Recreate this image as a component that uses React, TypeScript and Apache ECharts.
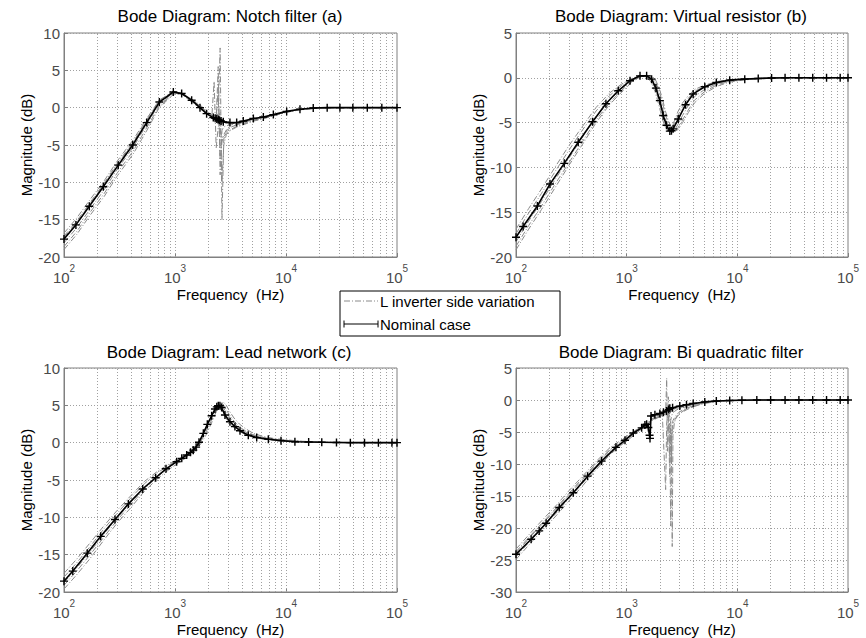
import React, { useEffect, useRef } from "react";
import * as echarts from "echarts";

const FONT = "Liberation Sans, Arial, Helvetica, sans-serif";

// ---------- Panel (a) Notch filter ----------
const NOM_A_F = [100, 128, 169, 226, 308, 416, 556, 723, 966, 1148, 1413, 1679, 1927, 2213, 2300, 2380, 2456, 2520, 2600, 2723, 3126, 3594, 4121, 5082, 6250, 7690, 10140, 13360, 17600, 23500, 30600, 40000, 54000, 73000, 100000];
const NOM_A_V = [-17.6, -15.7, -13.2, -10.6, -7.7, -5.0, -2.0, 0.75, 2.1, 1.9, 1.0, 0.0, -0.8, -1.33, -1.42, -1.52, -1.6, -1.68, -1.78, -1.9, -2.0, -2.0, -1.8, -1.46, -1.24, -0.93, -0.5, -0.22, -0.05, 0, 0, 0, 0, 0, 0];
const VAR_A_F = [100, 130, 170, 230, 300, 420, 560, 720, 970, 1150, 1400, 1700, 1950, 2150, 2250, 2350, 2450, 2550, 2650, 2750, 2900, 3200, 3600, 4100, 5100, 6200, 7700, 10000, 13000, 18000, 25000, 40000, 100000];
const VAR_A1 = [-16.8, -14.8, -12.4, -9.8, -7.2, -4.3, -1.4, 1.0, 2.2, 1.8, 0.8, -0.2, -0.9, -1.3, -1.4, -1.2, -0.8, 8.0, -15.0, -4.2, -3.1, -2.6, -2.3, -2.0, -1.6, -1.35, -1.0, -0.6, -0.3, -0.1, 0, 0, 0];
const VAR_A2 = [-17.2, -15.2, -12.8, -10.1, -7.5, -4.6, -1.6, 0.9, 2.2, 1.9, 0.9, -0.1, -0.9, -1.1, 3.5, -5.4, -2.6, -2.2, -2.1, -2.1, -2.1, -2.1, -2.1, -1.9, -1.5, -1.3, -1.0, -0.55, -0.27, -0.06, 0, 0, 0];
const VAR_A3 = [-18.1, -16.1, -13.7, -11.0, -8.3, -5.3, -2.2, 0.5, 2.0, 1.9, 1.1, 0.1, -0.7, -1.2, -1.3, -1.3, 2.5, -7.0, -4.6, -3.6, -3.0, -2.6, -2.3, -2.1, -1.7, -1.4, -1.05, -0.6, -0.3, -0.08, 0, 0, 0];
const VAR_A4 = [-18.6, -16.6, -14.1, -11.5, -8.8, -5.8, -2.6, 0.2, 1.9, 1.9, 1.2, 0.2, -0.6, -1.0, -1.2, -1.3, -1.4, -0.6, -10.0, -5.0, -3.6, -3.0, -2.6, -2.3, -1.8, -1.5, -1.1, -0.65, -0.32, -0.1, 0, 0, 0];
const VAR_A5 = [-19.0, -17.0, -14.5, -11.9, -9.2, -6.2, -3.0, 0.0, 1.8, 1.9, 1.2, 0.3, -0.5, -1.0, -1.3, -1.6, -2.2, -3.0, -4.0, -3.9, -3.4, -2.9, -2.5, -2.2, -1.75, -1.45, -1.1, -0.6, -0.3, -0.08, 0, 0, 0];
const VAR_A6 = [-17.4, -15.4, -13.0, -10.3, -7.7, -4.7, -1.8, 0.8, 2.1, 1.9, 0.95, -0.1, -0.85, -1.2, -1.4, -1.8, 5.5, -9.0, -3.0, -2.6, -2.4, -2.3, -2.2, -1.95, -1.55, -1.3, -1.0, -0.55, -0.27, -0.06, 0, 0, 0];

// ---------- Panel (b) Virtual resistor ----------
const NOM_B_F = [100, 116, 156, 203, 273, 365, 492, 649, 839, 1072, 1320, 1515, 1680, 1837, 1995, 2138, 2291, 2455, 2540, 2630, 2924, 3405, 3990, 5080, 6460, 8530, 11670, 15450, 20400, 27000, 36000, 48000, 64000, 85000, 100000];
const NOM_B_V = [-17.8, -16.6, -14.3, -11.85, -9.55, -7.2, -4.9, -2.9, -1.45, -0.33, 0.22, 0.22, -0.15, -1.15, -2.55, -4.2, -5.3, -5.95, -5.9, -5.7, -4.6, -3.0, -1.8, -1.0, -0.52, -0.26, -0.15, -0.07, -0.03, 0, 0, 0, 0, 0, 0];
const VAR_B_F = [100, 130, 170, 230, 300, 400, 530, 700, 900, 1100, 1300, 1500, 1650, 1800, 1950, 2100, 2250, 2400, 2550, 2700, 2900, 3200, 3600, 4100, 5000, 6500, 8500, 11500, 16000, 25000, 50000, 100000];
const VAR_B1 = [-16.9, -14.6, -12.4, -9.8, -7.6, -5.4, -3.3, -1.7, -0.7, -0.1, 0.25, 0.1, -0.4, -1.5, -3.0, -4.6, -5.6, -5.9, -5.5, -4.8, -3.8, -2.8, -2.0, -1.3, -0.85, -0.42, -0.2, -0.1, -0.04, 0, 0, 0];
const VAR_B2 = [-17.4, -15.1, -12.9, -10.3, -8.1, -5.8, -3.7, -2.0, -0.85, -0.2, 0.2, 0.2, -0.15, -1.1, -2.5, -4.1, -5.3, -5.9, -5.7, -5.1, -4.2, -3.2, -2.3, -1.5, -1.0, -0.48, -0.23, -0.12, -0.05, 0, 0, 0];
const VAR_B3 = [-18.3, -16.0, -13.8, -11.2, -9.0, -6.6, -4.3, -2.5, -1.2, -0.35, 0.15, 0.25, 0.1, -0.6, -1.8, -3.3, -4.7, -5.6, -6.1, -5.9, -5.2, -4.2, -3.1, -2.1, -1.35, -0.65, -0.32, -0.17, -0.07, -0.01, 0, 0];
const VAR_B4 = [-18.8, -16.5, -14.3, -11.7, -9.5, -7.1, -4.7, -2.8, -1.4, -0.45, 0.1, 0.25, 0.2, -0.3, -1.3, -2.7, -4.2, -5.2, -5.8, -6.0, -5.6, -4.7, -3.6, -2.5, -1.6, -0.8, -0.4, -0.2, -0.08, -0.01, 0, 0];
const VAR_B5 = [-19.2, -16.9, -14.7, -12.1, -9.8, -7.4, -5.0, -3.0, -1.6, -0.55, 0.05, 0.25, 0.25, -0.1, -1.0, -2.3, -3.8, -4.9, -5.6, -6.0, -5.8, -5.0, -3.9, -2.8, -1.8, -0.95, -0.48, -0.24, -0.1, -0.02, 0, 0];

// ---------- Panel (c) Lead network ----------
const NOM_C_F = [100, 120, 162, 214, 288, 380, 512, 670, 830, 1035, 1150, 1274, 1380, 1462, 1550, 1644, 1800, 1955, 2138, 2291, 2380, 2455, 2540, 2630, 2818, 3126, 3467, 3851, 4574, 5445, 6934, 9016, 12030, 16000, 21000, 28500, 38000, 51000, 68000, 90000, 100000];
const NOM_C_V = [-18.55, -17.2, -14.8, -12.55, -10.3, -8.2, -6.2, -4.7, -3.5, -2.55, -2.1, -1.65, -1.3, -1.0, -0.6, 0.05, 1.25, 2.45, 3.6, 4.5, 4.8, 4.95, 4.95, 4.7, 3.7, 2.8, 2.15, 1.6, 1.0, 0.7, 0.45, 0.27, 0.13, 0.09, 0.05, 0.03, 0, 0, 0, 0, 0];
const VAR_C_F = [100, 130, 170, 230, 300, 400, 530, 700, 900, 1100, 1300, 1500, 1700, 1900, 2100, 2300, 2500, 2700, 2900, 3100, 3400, 3800, 4300, 5000, 6000, 7500, 10000, 14000, 20000, 40000, 100000];
const VAR_C1 = [-17.5, -15.6, -13.5, -11.1, -9.1, -7.1, -5.2, -3.8, -2.8, -2.1, -1.5, -0.7, 0.5, 2.0, 3.4, 4.5, 4.8, 4.1, 3.2, 2.7, 2.0, 1.5, 1.1, 0.75, 0.5, 0.35, 0.22, 0.11, 0.05, 0, 0];
const VAR_C2 = [-18.0, -16.1, -14.0, -11.5, -9.5, -7.4, -5.5, -4.0, -2.95, -2.2, -1.6, -0.8, 0.4, 1.9, 3.3, 4.5, 5.0, 4.5, 3.6, 3.0, 2.3, 1.75, 1.3, 0.85, 0.6, 0.4, 0.26, 0.13, 0.05, 0, 0];
const VAR_C3 = [-19.1, -17.2, -15.1, -12.6, -10.4, -8.3, -6.2, -4.5, -3.3, -2.45, -1.8, -1.0, 0.1, 1.4, 2.8, 4.2, 5.1, 5.2, 4.4, 3.7, 2.9, 2.1, 1.6, 1.1, 0.75, 0.5, 0.32, 0.16, 0.07, 0.01, 0];
const VAR_C4 = [-19.6, -17.7, -15.6, -13.0, -10.8, -8.7, -6.5, -4.8, -3.5, -2.6, -1.9, -1.2, -0.2, 1.0, 2.4, 3.8, 5.0, 5.5, 5.0, 4.2, 3.3, 2.5, 1.9, 1.3, 0.9, 0.6, 0.38, 0.19, 0.08, 0.01, 0];
const VAR_C5 = [-18.75, -16.8, -14.7, -12.2, -10.1, -8.0, -6.0, -4.35, -3.2, -2.35, -1.75, -0.9, 0.3, 1.7, 3.1, 4.4, 5.1, 4.8, 4.0, 3.4, 2.6, 1.95, 1.45, 1.0, 0.68, 0.45, 0.3, 0.15, 0.06, 0, 0];

// ---------- Panel (d) Bi quadratic filter ----------
const NOM_D_F = [100, 137, 162, 187, 246, 329, 444, 594, 800, 966, 1148, 1366, 1462, 1515, 1570, 1610, 1625, 1660, 1800, 1995, 2150, 2291, 2400, 2455, 2600, 3020, 3470, 3990, 5080, 6460, 8530, 11000, 15000, 20000, 27000, 36000, 48000, 64000, 85000, 100000];
const NOM_D_V = [-24.1, -21.75, -20.45, -19.25, -16.8, -14.5, -11.9, -9.55, -7.4, -6.3, -5.15, -4.35, -3.9, -3.8, -4.3, -5.5, -6.0, -2.5, -2.3, -2.1, -1.9, -1.7, -1.5, -1.3, -1.2, -0.95, -0.75, -0.55, -0.3, -0.15, -0.07, -0.03, 0, 0, 0, 0, 0, 0, 0, 0];
const VAR_D_F = [100, 130, 170, 230, 300, 400, 530, 700, 900, 1100, 1300, 1500, 1600, 1700, 1900, 2100, 2250, 2300, 2340, 2380, 2450, 2500, 2540, 2580, 2620, 2700, 2850, 3100, 3500, 4000, 5000, 6500, 8500, 12000, 20000, 50000, 100000];
const VAR_D1 = [-23.3, -21.1, -18.9, -16.5, -14.2, -11.9, -9.6, -7.5, -6.2, -5.2, -4.3, -3.7, -3.3, -2.9, -2.5, -2.2, -2.0, 3.4, -8.0, -3.0, -2.0, -1.8, -1.6, -1.5, -1.4, -1.3, -1.1, -1.0, -0.8, -0.55, -0.3, -0.15, -0.07, -0.03, 0, 0, 0];
const VAR_D2 = [-23.7, -21.5, -19.3, -16.9, -14.6, -12.2, -9.9, -7.8, -6.4, -5.35, -4.4, -3.8, -3.4, -3.0, -2.6, -2.3, -14.0, -3.5, -2.8, -2.4, -2.1, -1.9, -1.8, -1.7, -1.6, -1.5, -1.3, -1.15, -0.9, -0.65, -0.35, -0.17, -0.08, -0.03, 0, 0, 0];
const VAR_D3 = [-24.5, -22.3, -20.1, -17.7, -15.4, -13.0, -10.5, -8.3, -6.8, -5.65, -4.65, -4.0, -3.5, -3.1, -2.7, -2.4, -2.2, -2.1, -2.1, -2.2, -2.5, -3.5, -6.0, -22.9, -5.5, -3.5, -2.6, -2.0, -1.5, -1.05, -0.55, -0.25, -0.1, -0.04, 0, 0, 0];
const VAR_D4 = [-24.9, -22.7, -20.5, -18.1, -15.8, -13.4, -10.9, -8.6, -7.0, -5.85, -4.8, -4.1, -3.6, -3.2, -2.8, -2.5, -2.3, -2.3, -2.4, -2.6, -4.0, -19.7, -6.5, -4.5, -3.8, -3.2, -2.5, -1.9, -1.4, -1.0, -0.5, -0.22, -0.09, -0.03, 0, 0, 0];
const VAR_D5 = [-24.3, -22.1, -19.9, -17.5, -15.2, -12.8, -10.3, -8.1, -6.7, -5.6, -4.6, -4.0, -3.5, -3.1, -2.7, -2.4, -2.2, -2.2, -2.3, -2.6, -12.0, -4.5, -10.0, -4.0, -3.2, -2.8, -2.2, -1.7, -1.25, -0.9, -0.45, -0.2, -0.08, -0.03, 0, 0, 0];
const VAR_D6 = [-23.9, -21.7, -19.5, -17.1, -14.8, -12.4, -10.0, -7.9, -6.5, -5.45, -4.45, -3.85, -3.4, -3.0, -2.6, -2.3, -2.1, -1.9, -1.5, 0.5, -9.0, -3.2, -2.6, -2.2, -2.0, -1.8, -1.5, -1.3, -1.0, -0.7, -0.35, -0.16, -0.07, -0.03, 0, 0, 0];

// ---------- Axis / text content ----------
const TITLES = [
  "Bode Diagram: Notch filter (a)",
  "Bode Diagram: Virtual resistor (b)",
  "Bode Diagram: Lead network (c)",
  "Bode Diagram: Bi quadratic filter",
];
const Y_MIN = [-20, -20, -20, -30];
const Y_MAX = [10, 5, 10, 5];
const X_NAME = "Frequency  (Hz)";
const Y_NAME = "Magnitude (dB)";
const LEGEND_VAR = "L inverter side variation";
const LEGEND_NOM = "Nominal case";
const GRID_FREQS = [
  200, 300, 400, 500, 600, 700, 800, 900, 1000,
  2000, 3000, 4000, 5000, 6000, 7000, 8000, 9000, 10000,
  20000, 30000, 40000, 50000, 60000, 70000, 80000, 90000,
];

const PANELS = [
  { nomF: NOM_A_F, nomV: NOM_A_V, varF: VAR_A_F, vars: [VAR_A1, VAR_A2, VAR_A3, VAR_A4, VAR_A5, VAR_A6] },
  { nomF: NOM_B_F, nomV: NOM_B_V, varF: VAR_B_F, vars: [VAR_B1, VAR_B2, VAR_B3, VAR_B4, VAR_B5] },
  { nomF: NOM_C_F, nomV: NOM_C_V, varF: VAR_C_F, vars: [VAR_C1, VAR_C2, VAR_C3, VAR_C4, VAR_C5] },
  { nomF: NOM_D_F, nomV: NOM_D_V, varF: VAR_D_F, vars: [VAR_D1, VAR_D2, VAR_D3, VAR_D4, VAR_D5, VAR_D6] },
];

// layout (pixels)
const LAYOUT = [
  { left: 64, top: 33, width: 333, height: 224, tx: 230, ty: 16 },
  { left: 516, top: 33, width: 332, height: 224, tx: 681, ty: 16 },
  { left: 64, top: 368, width: 333, height: 225, tx: 229, ty: 352 },
  { left: 516, top: 368, width: 332, height: 225, tx: 681, ty: 352 },
];

const GRAY_AXIS = "#808080";
const LABEL_COLOR = "#4a4a4a";
const VAR_COLOR = "#8a8a8a";
const DASHDOT = [6, 2, 1, 2];

function buildOption() {
  const grid: any[] = [];
  const xAxis: any[] = [];
  const yAxis: any[] = [];
  const series: any[] = [];
  const graphic: any[] = [];

  PANELS.forEach((p, i) => {
    const L = LAYOUT[i];
    grid.push({
      left: L.left, top: L.top, width: L.width, height: L.height,
      show: true, borderColor: GRAY_AXIS, borderWidth: 1, backgroundColor: "#fff",
    });
    xAxis.push({
      type: "log", logBase: 10, min: 100, max: 100000, gridIndex: i,
      axisLine: { show: true, onZero: false, lineStyle: { color: GRAY_AXIS } },
      axisTick: { show: true, inside: true, length: 4, lineStyle: { color: GRAY_AXIS } },
      splitLine: { show: false },
      axisLabel: {
        margin: 6,
        formatter: (v: number) => `{b|10}{s|${Math.round(Math.log10(v))}}`,
        rich: {
          b: { fontSize: 15, fontFamily: FONT, color: LABEL_COLOR, verticalAlign: "bottom", lineHeight: 22 },
          s: { fontSize: 10, fontFamily: FONT, color: LABEL_COLOR, verticalAlign: "top", lineHeight: 22 },
        },
      },
      name: X_NAME, nameLocation: "middle", nameGap: 30,
      nameTextStyle: { fontSize: 15, fontFamily: FONT, color: "#000" },
    });
    yAxis.push({
      type: "value", min: Y_MIN[i], max: Y_MAX[i], interval: 5, gridIndex: i,
      axisLine: { show: true, onZero: false, lineStyle: { color: GRAY_AXIS } },
      axisTick: { show: true, inside: true, length: 4, lineStyle: { color: GRAY_AXIS } },
      splitLine: { show: true, lineStyle: { color: "#a0a0a0", type: [1, 2], width: 1 } },
      axisLabel: { fontSize: 15, fontFamily: FONT, color: LABEL_COLOR, margin: 4 },
      name: Y_NAME, nameLocation: "middle", nameGap: 30, nameRotate: 90,
      nameTextStyle: { fontSize: 15, fontFamily: FONT, color: "#000" },
    });
    // vertical dotted grid lines
    series.push({
      type: "line", xAxisIndex: i, yAxisIndex: i, data: [], symbol: "none", silent: true, z: 1,
      markLine: {
        silent: true, symbol: ["none", "none"], label: { show: false }, animation: false,
        lineStyle: { color: "#a0a0a0", type: [1, 2], width: 1 },
        emphasis: { disabled: true },
        data: GRID_FREQS.map((f) => ({ xAxis: f })),
      },
    });
    p.vars.forEach((vals) => {
      series.push({
        type: "line", xAxisIndex: i, yAxisIndex: i, symbol: "none", silent: true, z: 3,
        data: p.varF.map((f, k) => [f, vals[k]]),
        lineStyle: { color: VAR_COLOR, width: 1, type: DASHDOT },
      });
    });
    series.push({
      type: "line", xAxisIndex: i, yAxisIndex: i, silent: true, z: 5,
      data: p.nomF.map((f, k) => [f, p.nomV[k]]),
      symbol: "path://M5,0L5,10M0,5L10,5", symbolSize: 8,
      itemStyle: { color: "#000", borderColor: "#000", borderWidth: 1.4 },
      lineStyle: { color: "#000", width: 1.6 },
    });
    graphic.push({
      type: "text", x: L.tx, y: L.ty, z: 10,
      style: { text: TITLES[i], fontSize: 17, fontFamily: FONT, fill: "#000", align: "center", verticalAlign: "middle" },
    });
  });

  // legend box
  const lx = 340, ly = 291, lw = 220, lh = 45;
  graphic.push(
    { type: "rect", shape: { x: lx, y: ly, width: lw, height: lh }, style: { fill: "#fff", stroke: "#000", lineWidth: 1 }, z: 20 },
    { type: "line", shape: { x1: lx + 4, y1: ly + 10, x2: lx + 38, y2: ly + 10 }, style: { stroke: VAR_COLOR, lineWidth: 1, lineDash: DASHDOT }, z: 21 },
    { type: "text", x: lx + 40, y: ly + 10, z: 21, style: { text: LEGEND_VAR, fontSize: 15, fontFamily: FONT, fill: "#000", verticalAlign: "middle" } },
    { type: "line", shape: { x1: lx + 4, y1: ly + 33, x2: lx + 38, y2: ly + 33 }, style: { stroke: "#000", lineWidth: 1 }, z: 21 },
    { type: "line", shape: { x1: lx + 4, y1: ly + 29.5, x2: lx + 4, y2: ly + 36.5 }, style: { stroke: "#000", lineWidth: 1 }, z: 21 },
    { type: "line", shape: { x1: lx + 38, y1: ly + 29.5, x2: lx + 38, y2: ly + 36.5 }, style: { stroke: "#000", lineWidth: 1 }, z: 21 },
    { type: "text", x: lx + 40, y: ly + 33, z: 21, style: { text: LEGEND_NOM, fontSize: 15, fontFamily: FONT, fill: "#000", verticalAlign: "middle" } },
  );

  return {
    animation: false,
    backgroundColor: "#fff",
    grid, xAxis, yAxis, series, graphic,
  };
}

export default function App() {
  const ref = useRef<HTMLDivElement>(null);
  useEffect(() => {
    const chart = echarts.init(ref.current!, null, { renderer: "svg" });
    chart.setOption(buildOption() as any);
    return () => chart.dispose();
  }, []);
  return (
    <div
      ref={ref}
      style={{ position: "fixed", left: 0, top: 0, width: 866, height: 638, background: "#fff" }}
    />
  );
}
